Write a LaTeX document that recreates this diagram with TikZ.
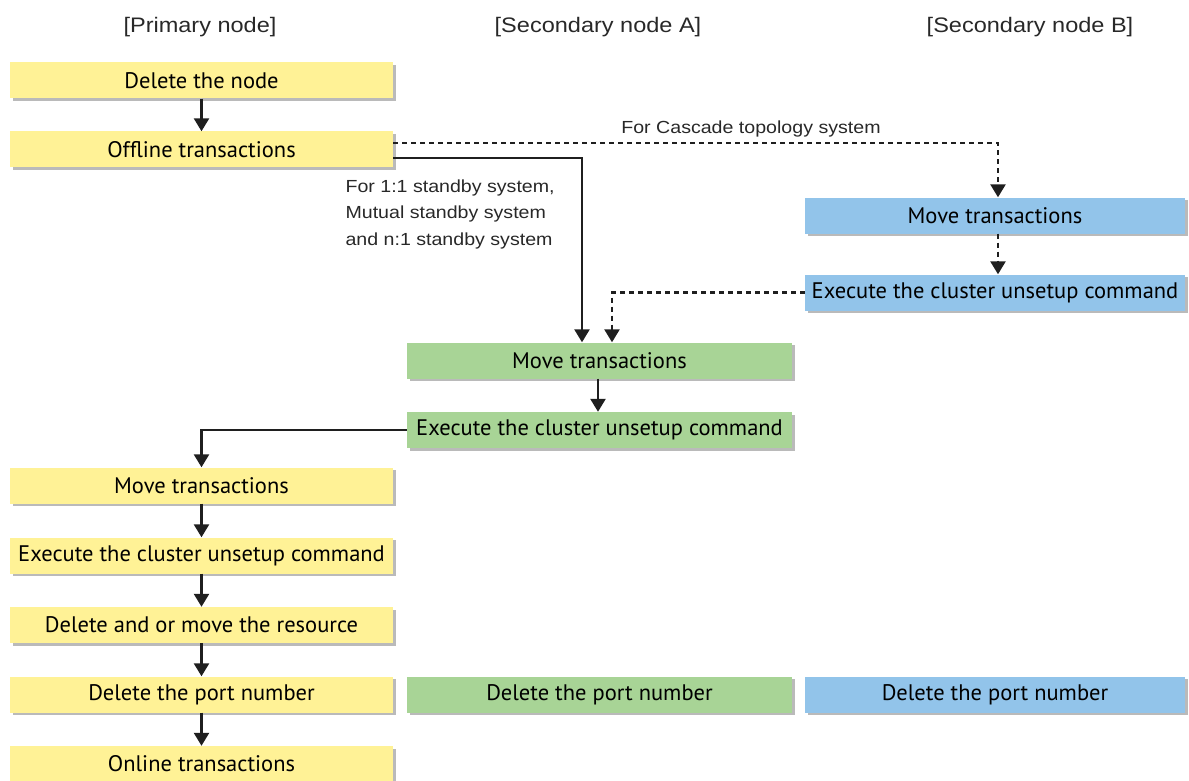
\documentclass[tikz,border=0pt]{standalone}
\usepackage{fontspec}
\setmainfont{PT Sans}
\newfontfamily\arialf[FakeStretch=1.12]{Liberation Sans}
\usetikzlibrary{arrows.meta,shadows}
\definecolor{yel}{RGB}{255,242,150}
\definecolor{grn}{RGB}{168,212,150}
\definecolor{blu}{RGB}{146,196,234}
\definecolor{hdr}{RGB}{40,40,40}
\tikzset{
  box/.style={minimum height=36pt, inner sep=0pt, font=\fontsize{22.5pt}{26pt}\selectfont, text=black,
     drop shadow={shadow xshift=2.5pt, shadow yshift=-2.5pt, fill=black!45, opacity=0.6}},
  ybox/.style={box, fill=yel, minimum width=383pt},
  gbox/.style={box, fill=grn, minimum width=385pt},
  bbox/.style={box, fill=blu, minimum width=380pt},
  hdrtext/.style={font=\arialf\fontsize{21pt}{24pt}\selectfont, text=hdr},
  lbltext/.style={font=\arialf\fontsize{17.5pt}{26.5pt}\selectfont, text=hdr, align=left},
  conn/.style={line width=2.5pt, draw=black!88, -{Triangle[width=15pt,length=13pt]}},
  dconn/.style={conn, dash pattern=on 5pt off 4pt},
}
\begin{document}
\begin{tikzpicture}[x=1pt,y=-1pt]
\useasboundingbox (0,0) rectangle (1189,781);
% headers
\node[hdrtext] (h1) at (200,27) {[Primary node]};
\node[hdrtext] (h2) at (598,27) {[Secondary node A]};
\node[hdrtext] (h3) at (1030,27) {[Secondary node B]};
% primary
\node[ybox] (ydel) at (201.5,80.5) {Delete the node};
\node[ybox] (yoff) at (201.5,149.5) {Offline transactions};
\node[ybox] (ymove) at (201.5,485.5) {Move transactions};
\node[ybox] (yexec) at (201.5,555.5) {Execute the cluster unsetup command};
\node[ybox] (yres) at (201.5,625) {Delete and or move the resource};
\node[ybox] (yport) at (201.5,694.5) {Delete the port number};
\node[ybox] (yon) at (201.5,764) {Online transactions};
% secondary A
\node[gbox] (gmove) at (599.5,360.5) {Move transactions};
\node[gbox] (gexec) at (599.5,430) {Execute the cluster unsetup command};
\node[gbox] (gport) at (599.5,694.5) {Delete the port number};
% secondary B
\node[bbox] (bmove) at (995,215.5) {Move transactions};
\node[bbox] (bexec) at (995,292.5) {Execute the cluster unsetup command};
\node[bbox] (bport) at (995,694.5) {Delete the port number};
% labels
\node[hdrtext, font=\arialf\fontsize{17.5pt}{20pt}\selectfont] (lc) at (751,129) {For Cascade topology system};
\node[lbltext, anchor=north west] (ls) at (342,176) {For 1:1 standby system,\\Mutual standby system\\and n:1 standby system};
% connectors
\draw[conn] (ydel) -- (yoff);
\draw[conn] ([yshift=-8.5pt]yoff.east) -| ([xshift=-17.5pt]gmove.north);
\draw[dconn] ([yshift=6.5pt]yoff.east) -| ([xshift=3pt]bmove.north);
\draw[dconn] ([xshift=3pt]bmove.south) -- ([xshift=3pt]bexec.north);
\draw[dconn] (bexec.west) -| ([xshift=12.5pt]gmove.north);
\draw[conn] ([xshift=-1.5pt]gmove.south) -- ([xshift=-1.5pt]gexec.north);
\draw[conn] (gexec.west) -| (ymove.north);
\draw[conn] (ymove) -- (yexec);
\draw[conn] (yexec) -- (yres);
\draw[conn] (yres) -- (yport);
\draw[conn] (yport) -- (yon);
\end{tikzpicture}
\end{document}
